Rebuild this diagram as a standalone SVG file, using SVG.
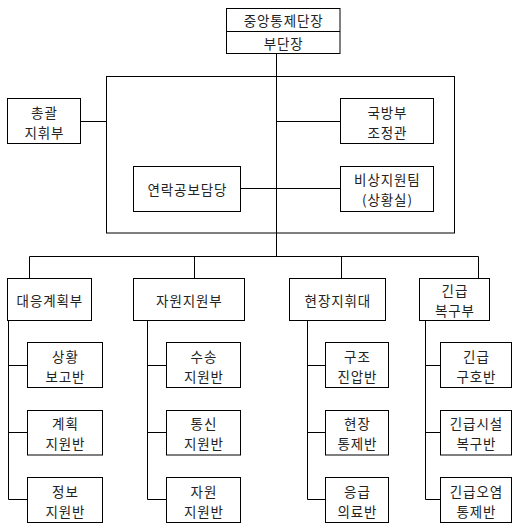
<svg xmlns="http://www.w3.org/2000/svg" width="522" height="528" viewBox="0 0 522 528">
<style>
rect.b{fill:#fff;stroke:#000;stroke-width:1}
rect.f{fill:none;stroke:#000;stroke-width:1}
#connectors path{fill:none;stroke:#000;stroke-width:1}
text{font-family:"Noto Sans CJK KR","Noto Sans",sans-serif;font-size:13.5px;letter-spacing:0.9px;fill:#222;text-anchor:middle;dominant-baseline:central}
</style>
<rect width="522" height="528" fill="#fff"/>
<g id="connectors">
<path d="M276.5 53V256.5"/>
<path d="M80 121.5H106.5M276 121.5H340.5M240.5 188.5H340.5"/>
<path d="M29.5 256.5H478.5M29.5 256.5V278.5M194.5 256.5V278.5M341.5 256.5V278.5M478.5 256.5V278.5"/>
<path d="M8.5 320.5V499.5M8.5 365.5H27.5M8.5 432.5H27.5M8.5 499.5H27.5"/>
<path d="M147.5 320.5V499.5M147.5 365.5H166.5M147.5 432.5H166.5M147.5 499.5H166.5"/>
<path d="M307.5 320.5V499.5M307.5 365.5H325.5M307.5 432.5H325.5M307.5 499.5H325.5"/>
<path d="M425.5 320.5V499.5M425.5 365.5H440.5M425.5 432.5H440.5M425.5 499.5H440.5"/>
</g>
<g id="frame"><rect class="f" x="106.5" y="76.5" width="348" height="156.5"/></g>
<g id="n-top">
<rect class="b" x="226.5" y="8.5" width="113.5" height="45"/>
<path d="M226.5 31.5H340" stroke="#000" stroke-width="1"/>
<text x="283.7" y="20">중앙통제단장</text>
<text x="283.7" y="42.5">부단장</text>
</g>
<g id="n-chonggwal">
<rect class="b" x="7.5" y="98.5" width="73" height="45"/>
<text x="44.4" y="111.5">총괄</text>
<text x="44.4" y="131.5">지휘부</text>
</g>
<g id="n-gukbangbu">
<rect class="b" x="340.5" y="98.5" width="93" height="45"/>
<text x="387.4" y="111.5">국방부</text>
<text x="387.4" y="131.5">조정관</text>
</g>
<g id="n-yeollak">
<rect class="b" x="133.5" y="166.5" width="107" height="45"/>
<text x="187.4" y="189">연락공보담당</text>
</g>
<g id="n-bisang">
<rect class="b" x="340.5" y="166.5" width="93" height="45"/>
<text x="387.4" y="179">비상지원팀</text>
<text x="387.4" y="199">(상황실)</text>
</g>
<g id="n-daeeung">
<rect class="b" x="7.5" y="278.5" width="84" height="42"/>
<text x="49.9" y="299.5">대응계획부</text>
</g>
<g id="n-jawon">
<rect class="b" x="133.5" y="278.5" width="111" height="42"/>
<text x="189.4" y="299.5">자원지원부</text>
</g>
<g id="n-hyeonjang">
<rect class="b" x="289.5" y="278.5" width="96" height="42"/>
<text x="337.9" y="299.5">현장지휘대</text>
</g>
<g id="n-gingeup">
<rect class="b" x="419.5" y="278.5" width="70" height="42"/>
<text x="454.9" y="290">긴급</text>
<text x="454.9" y="310">복구부</text>
</g>
<g id="n-c1a"><rect class="b" x="27.5" y="342.5" width="75" height="45"/><text x="65.4" y="355.5">상황</text><text x="65.4" y="375.5">보고반</text></g>
<g id="n-c1b"><rect class="b" x="27.5" y="410.5" width="75" height="44.5"/><text x="65.4" y="423">계획</text><text x="65.4" y="443">지원반</text></g>
<g id="n-c1c"><rect class="b" x="27.5" y="477.5" width="75" height="45"/><text x="65.4" y="490.5">정보</text><text x="65.4" y="510.5">지원반</text></g>
<g id="n-c2a"><rect class="b" x="166.5" y="342.5" width="74" height="45"/><text x="203.9" y="355.5">수송</text><text x="203.9" y="375.5">지원반</text></g>
<g id="n-c2b"><rect class="b" x="166.5" y="410.5" width="74" height="44.5"/><text x="203.9" y="423">통신</text><text x="203.9" y="443">지원반</text></g>
<g id="n-c2c"><rect class="b" x="166.5" y="477.5" width="74" height="45"/><text x="203.9" y="490.5">자원</text><text x="203.9" y="510.5">지원반</text></g>
<g id="n-c3a"><rect class="b" x="325.5" y="342.5" width="63" height="45"/><text x="357.4" y="355.5">구조</text><text x="357.4" y="375.5">진압반</text></g>
<g id="n-c3b"><rect class="b" x="325.5" y="410.5" width="63" height="44.5"/><text x="357.4" y="423">현장</text><text x="357.4" y="443">통제반</text></g>
<g id="n-c3c"><rect class="b" x="325.5" y="477.5" width="63" height="45"/><text x="357.4" y="490.5">응급</text><text x="357.4" y="510.5">의료반</text></g>
<g id="n-c4a"><rect class="b" x="440.5" y="342.5" width="71" height="45"/><text x="476.4" y="355.5">긴급</text><text x="476.4" y="375.5">구호반</text></g>
<g id="n-c4b"><rect class="b" x="440.5" y="410.5" width="71" height="44.5"/><text x="476.4" y="423">긴급시설</text><text x="476.4" y="443">복구반</text></g>
<g id="n-c4c"><rect class="b" x="440.5" y="477.5" width="71" height="45"/><text x="476.4" y="490.5">긴급오염</text><text x="476.4" y="510.5">통제반</text></g>
</svg>
